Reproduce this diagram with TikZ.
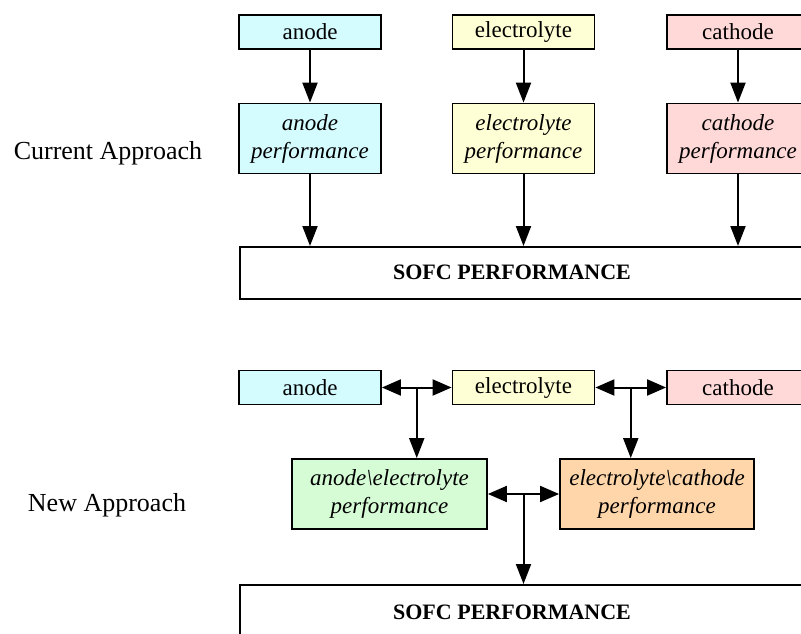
\documentclass[tikz,border=0pt]{standalone}
\usepackage{fontspec}
\setmainfont{Liberation Serif}
\usetikzlibrary{arrows.meta}

\definecolor{anodefill}{RGB}{212,252,255}
\definecolor{elecfill}{RGB}{255,255,214}
\definecolor{cathfill}{RGB}{255,216,216}
\definecolor{aefill}{RGB}{214,252,214}
\definecolor{ecfill}{RGB}{255,214,170}

\tikzset{
  box/.style={draw=black, line width=1.8pt, inner sep=0pt, align=center,
    font=\rmfamily\fontsize{23}{27}\selectfont},
  partbox/.style={box, minimum width=142pt, minimum height=34pt},
  perfbox/.style={box, minimum height=70pt, font=\rmfamily\itshape\fontsize{23}{28}\selectfont},
  sofcbox/.style={draw=black, line width=1.8pt, fill=white, minimum width=620pt, anchor=north west},
  sofclabel/.style={font=\rmfamily\bfseries\fontsize{22}{26}\selectfont},
  approach/.style={font=\rmfamily\fontsize{26}{30}\selectfont},
  arr/.style={line width=2pt, -{Triangle[length=20pt,width=15pt]}},
  arrtwo/.style={line width=2pt, {Triangle[length=19pt,width=16pt]}-{Triangle[length=19pt,width=16pt]}}
}

\begin{document}
\begin{tikzpicture}[x=1pt,y=-1pt]
\useasboundingbox (0,0) rectangle (801,634);
\clip (0,0) rectangle (801,634);

% ---------- current approach ----------
\node[approach] (cur) at (108,153) {Current Approach};

\node[partbox, fill=anodefill] (anA) at (310,32) {anode};
\node[partbox, fill=elecfill]  (elA) at (523.5,32) {electrolyte};
\node[partbox, fill=cathfill]  (caA) at (738,32) {cathode};

\node[perfbox, minimum width=142pt, fill=anodefill] (anP) at (310,138.5) {anode\\performance};
\node[perfbox, minimum width=142pt, fill=elecfill]  (elP) at (523.5,138.5) {electrolyte\\performance};
\node[perfbox, minimum width=142pt, fill=cathfill]  (caP) at (738,138.5) {cathode\\performance};

\node[sofcbox, minimum height=52pt] (sofA) at (239,246) {};
\node[sofclabel] (sofAl) at (512,272) {SOFC PERFORMANCE};

\draw[arr] (anA) -- (anP);
\draw[arr] (elA) -- (elP);
\draw[arr] (caA) -- (caP);
\draw[arr] (anP.south) -- (anP.south |- sofA.north);
\draw[arr] (elP.south) -- (elP.south |- sofA.north);
\draw[arr] (caP.south) -- (caP.south |- sofA.north);

% ---------- new approach ----------
\node[approach] (new) at (107,505) {New Approach};

\node[partbox, fill=anodefill] (anB) at (310,387.5) {anode};
\node[partbox, fill=elecfill]  (elB) at (523.5,387.5) {electrolyte};
\node[partbox, fill=cathfill]  (caB) at (738,387.5) {cathode};

\node[perfbox, minimum width=195pt, fill=aefill] (ae) at (389.5,494) {anode\textbackslash electrolyte\\performance};
\node[perfbox, minimum width=194pt, fill=ecfill] (ec) at (657,494) {electrolyte\textbackslash cathode\\performance};

\node[sofcbox, minimum height=80pt] (sofB) at (239,584) {};
\node[sofclabel] (sofBl) at (512,612) {SOFC PERFORMANCE};

\draw[arrtwo] (anB.east) -- (elB.west);
\draw[arrtwo] (elB.east) -- (caB.west);
\path (anB.east) -- (elB.west) coordinate[pos=0.5] (j1);
\path (elB.east) -- (caB.west) coordinate[pos=0.5] (j2);
\draw[arr] (j1) -- (j1 |- ae.north);
\draw[arr] (j2) -- (j2 |- ec.north);

\draw[arrtwo] (ae.east) -- (ec.west);
\path (ae.east) -- (ec.west) coordinate[pos=0.5] (j3);
\draw[arr] (j3) -- (j3 |- sofB.north);
\end{tikzpicture}
\end{document}
